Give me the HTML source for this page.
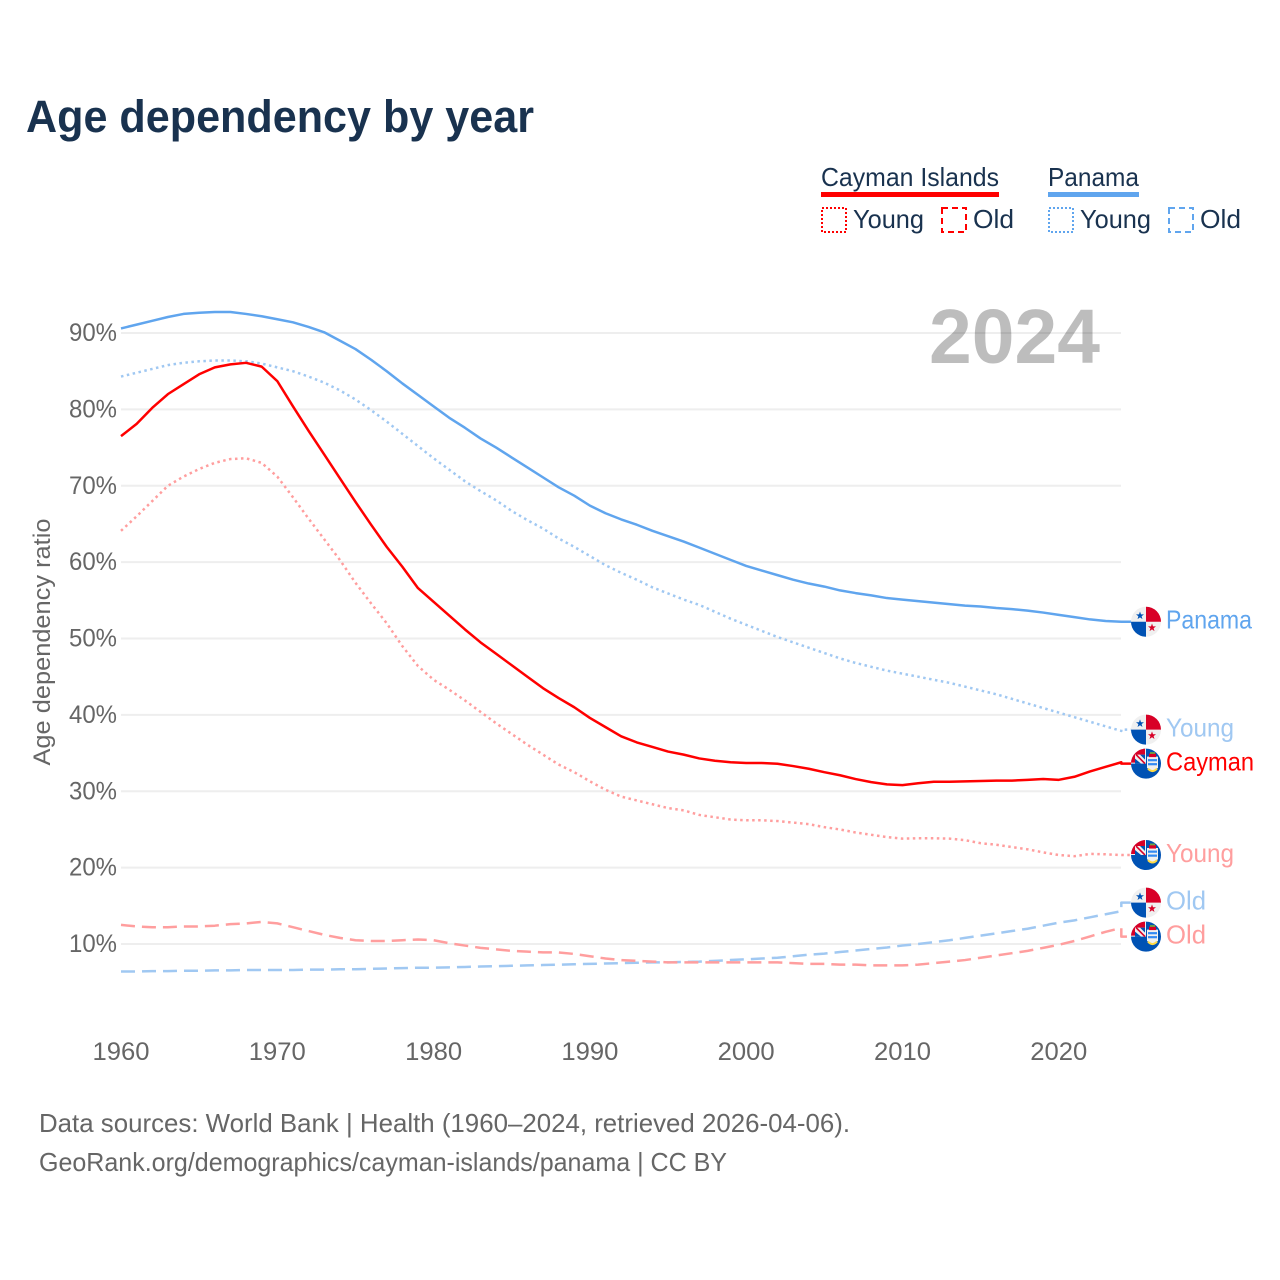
<!DOCTYPE html>
<html lang="en">
<head>
<meta charset="utf-8">
<title>Age dependency by year</title>
<style>
html,body{margin:0;padding:0;background:#fff;}
svg{display:block;}
text{font-family:"Liberation Sans",sans-serif;}
</style>
</head>
<body>
<svg id="chart" width="1280" height="1280" viewBox="0 0 1280 1280" xmlns="http://www.w3.org/2000/svg">
  <rect width="1280" height="1280" fill="#ffffff"/>
  <text x="26" y="132" font-size="45" font-weight="700" fill="#19324f" textLength="508" lengthAdjust="spacingAndGlyphs">Age dependency by year</text>

  <g font-size="26" fill="#19324f">
    <text x="821" y="186" textLength="178" lengthAdjust="spacingAndGlyphs">Cayman Islands</text>
    <rect x="821" y="192" width="178" height="5" fill="#ff0000"/>
    <text x="1048" y="186" textLength="91" lengthAdjust="spacingAndGlyphs">Panama</text>
    <rect x="1048" y="192" width="91" height="5" fill="#60a5ee"/>
    <rect x="822" y="208" width="24" height="24" fill="none" stroke="#ff0000" stroke-width="2" stroke-dasharray="2 2"/>
    <text x="853" y="228" textLength="71" lengthAdjust="spacingAndGlyphs">Young</text>
    <rect x="942" y="208" width="24" height="24" fill="none" stroke="#ff0000" stroke-width="2" stroke-dasharray="6 4"/>
    <text x="973" y="228" textLength="41" lengthAdjust="spacingAndGlyphs">Old</text>
    <rect x="1049" y="208" width="24" height="24" fill="none" stroke="#60a5ee" stroke-width="2" stroke-dasharray="2 2"/>
    <text x="1080" y="228" textLength="71" lengthAdjust="spacingAndGlyphs">Young</text>
    <rect x="1169" y="208" width="24" height="24" fill="none" stroke="#60a5ee" stroke-width="2" stroke-dasharray="6 4"/>
    <text x="1200" y="228" textLength="41" lengthAdjust="spacingAndGlyphs">Old</text>
  </g>

  <g id="grid"></g>
  <g id="y-ticks"></g>
  <g id="x-ticks"></g>
  <text transform="translate(50,642) rotate(-90)" text-anchor="middle" font-size="24" fill="#666666" textLength="247" lengthAdjust="spacingAndGlyphs">Age dependency ratio</text>
  <text x="1100" y="363" text-anchor="end" font-size="77" font-weight="700" fill="#000000" fill-opacity="0.26" textLength="171" lengthAdjust="spacingAndGlyphs">2024</text>

  <g id="series"></g>
  <g id="end-labels"></g>

  <text x="39" y="1132" font-size="26" fill="#666666" textLength="811" lengthAdjust="spacingAndGlyphs">Data sources: World Bank | Health (1960–2024, retrieved 2026-04-06).</text>
  <text x="39" y="1171" font-size="26" fill="#666666" textLength="688" lengthAdjust="spacingAndGlyphs">GeoRank.org/demographics/cayman-islands/panama | CC BY</text>
</svg>

<script>
const startYear = 1960;
const xTickLabels = [1960, 1970, 1980, 1990, 2000, 2010, 2020];
const yTickLabels = [10, 20, 30, 40, 50, 60, 70, 80, 90];

const panamaTotal = [90.6,91.1,91.6,92.1,92.5,92.65,92.75,92.75,92.5,92.2,91.8,91.4,90.8,90.1,89.0,87.9,86.5,85.0,83.4,81.9,80.4,78.9,77.6,76.2,75.0,73.7,72.4,71.1,69.8,68.7,67.4,66.4,65.6,64.9,64.1,63.4,62.7,61.9,61.1,60.3,59.5,58.9,58.3,57.7,57.2,56.8,56.3,55.95,55.65,55.3,55.1,54.9,54.7,54.5,54.3,54.2,54.0,53.85,53.65,53.4,53.1,52.8,52.5,52.3,52.2];
const panamaYoung = [84.3,84.8,85.3,85.8,86.1,86.3,86.4,86.4,86.3,86.0,85.5,85.0,84.3,83.5,82.5,81.3,79.9,78.4,76.8,75.2,73.6,72.1,70.6,69.3,68.1,66.7,65.5,64.4,63.1,62.0,60.8,59.6,58.6,57.7,56.7,55.9,55.1,54.4,53.5,52.6,51.8,51.0,50.2,49.5,48.8,48.1,47.4,46.8,46.3,45.8,45.4,45.0,44.6,44.2,43.7,43.2,42.7,42.1,41.5,40.9,40.3,39.7,39.1,38.5,37.9];
const panamaOld = [6.4,6.4,6.45,6.45,6.5,6.5,6.55,6.55,6.6,6.6,6.6,6.6,6.65,6.65,6.7,6.7,6.75,6.8,6.85,6.9,6.9,6.95,7.0,7.05,7.1,7.15,7.2,7.25,7.3,7.35,7.4,7.45,7.5,7.55,7.6,7.6,7.65,7.7,7.8,7.9,8.0,8.1,8.2,8.4,8.6,8.75,8.95,9.15,9.35,9.55,9.8,10.0,10.25,10.5,10.8,11.1,11.4,11.7,12.0,12.4,12.8,13.1,13.5,13.9,14.3];
const caymanTotal = [76.5,78.1,80.2,82.0,83.3,84.6,85.5,85.9,86.1,85.6,83.7,80.4,77.2,74.1,71.0,67.9,64.9,62.0,59.4,56.6,54.8,53.0,51.2,49.5,48.0,46.5,45.0,43.5,42.2,41.0,39.6,38.4,37.2,36.4,35.8,35.2,34.8,34.3,34.0,33.8,33.7,33.7,33.6,33.3,32.95,32.5,32.1,31.6,31.2,30.9,30.8,31.05,31.25,31.25,31.3,31.35,31.4,31.4,31.5,31.6,31.5,31.9,32.6,33.2,33.8];
const caymanYoung = [64.1,66.0,68.0,70.0,71.2,72.2,73.0,73.5,73.6,73.0,71.2,68.5,65.7,63.0,60.3,57.3,54.6,52.0,49.0,46.4,44.6,43.3,41.9,40.4,38.9,37.5,36.1,34.8,33.5,32.5,31.3,30.2,29.3,28.8,28.3,27.8,27.5,26.9,26.6,26.3,26.2,26.2,26.1,25.9,25.7,25.3,25.0,24.6,24.3,24.0,23.8,23.85,23.85,23.8,23.6,23.2,23.0,22.7,22.4,22.0,21.65,21.5,21.8,21.75,21.65];
const caymanOld = [12.5,12.3,12.2,12.2,12.3,12.3,12.4,12.6,12.7,12.9,12.7,12.2,11.7,11.2,10.8,10.5,10.4,10.4,10.5,10.6,10.5,10.1,9.8,9.5,9.3,9.1,9.0,8.9,8.9,8.7,8.4,8.1,7.9,7.8,7.7,7.6,7.6,7.6,7.6,7.6,7.6,7.6,7.6,7.5,7.4,7.4,7.3,7.3,7.2,7.2,7.2,7.3,7.5,7.7,7.9,8.2,8.5,8.8,9.1,9.5,9.9,10.4,11.0,11.6,12.1];

const NS = 'http://www.w3.org/2000/svg';
function xScale(year) { return 121 + (year - startYear) * 15.63; }
function yScale(v) { return 1020.4 - v * 7.6375; }
function mk(tag, parent) { const n = document.createElementNS(NS, tag); parent.appendChild(n); return n; }

const gridG = document.getElementById('grid');
const yG = document.getElementById('y-ticks');
yTickLabels.forEach(function (t) {
  const line = mk('line', gridG);
  
  
  line.setAttribute('x1', 121);
  line.setAttribute('x2', 1121);
  line.setAttribute('y1', yScale(t));
  line.setAttribute('y2', yScale(t));
  line.setAttribute('stroke', '#eeeeee');
  line.setAttribute('stroke-width', 2);
  const lab = mk('text', yG);
  
  
  lab.setAttribute('x', 117);
  lab.setAttribute('y', yScale(t) + 8);
  lab.setAttribute('text-anchor', 'end');
  lab.setAttribute('font-size', 25);
  lab.setAttribute('fill', '#666666');
  lab.setAttribute('textLength', 48);
  lab.setAttribute('lengthAdjust', 'spacingAndGlyphs');
  lab.textContent = t + '%';
});

const xG = document.getElementById('x-ticks');
xTickLabels.forEach(function (t) {
  const lab = mk('text', xG);
  
  
  lab.setAttribute('x', xScale(t));
  lab.setAttribute('y', 1060);
  lab.setAttribute('text-anchor', 'middle');
  lab.setAttribute('font-size', 25);
  lab.setAttribute('fill', '#666666');
  lab.setAttribute('textLength', 57);
  lab.setAttribute('lengthAdjust', 'spacingAndGlyphs');
  lab.textContent = t;
});

const seriesList = [
  { id: 'panama-old', values: panamaOld, color: '#a0c8f2', dash: '14 7', width: 2.5, label: 'Old', flag: 'panama', textW: 40 },
  { id: 'cayman-old', values: caymanOld, color: '#ff9e9e', dash: '14 7', width: 2.5, label: 'Old', flag: 'cayman', textW: 40 },
  { id: 'panama-young', values: panamaYoung, color: '#a0c8f2', dash: '2.5 3.5', width: 2.5, label: 'Young', flag: 'panama', textW: 68 },
  { id: 'cayman-young', values: caymanYoung, color: '#ff9e9e', dash: '2.5 3.5', width: 2.5, label: 'Young', flag: 'cayman', textW: 68 },
  { id: 'panama-total', values: panamaTotal, color: '#60a5ee', dash: '', width: 2.5, label: 'Panama', flag: 'panama', textW: 86 },
  { id: 'cayman-total', values: caymanTotal, color: '#ff0000', dash: '', width: 2.5, label: 'Cayman', flag: 'cayman', textW: 88 }
];

/* Dodge end labels so that flags never overlap (minimum gap 34px). */
const order = seriesList.map(function (s) {
  return { s: s, y: yScale(s.values[s.values.length - 1]) };
}).sort(function (a, b) { return a.y - b.y; });
for (let it = 0; it < 20; it++) {
  for (let i = 1; i < order.length; i++) {
    const gap = order[i].y - order[i - 1].y;
    if (gap < 34) {
      const d = (34 - gap) / 2;
      order[i - 1].y -= d;
      order[i].y += d;
    }
  }
}
order.forEach(function (o) { o.s.labelY = o.y; });

function flagPanama(g, cy) {
  const cx = 1146, r = 15;
  const base = mk('circle', g);
  base.setAttribute('cx', cx); base.setAttribute('cy', cy); base.setAttribute('r', r); base.setAttribute('fill', '#f0f0f0');
  const red = mk('path', g);
  red.setAttribute('d', 'M' + cx + ' ' + cy + 'V' + (cy - r) + 'A' + r + ' ' + r + ' 0 0 1 ' + (cx + r) + ' ' + cy + 'Z');
  red.setAttribute('fill', '#d80027');
  const blue = mk('path', g);
  blue.setAttribute('d', 'M' + cx + ' ' + cy + 'V' + (cy + r) + 'A' + r + ' ' + r + ' 0 0 1 ' + (cx - r) + ' ' + cy + 'Z');
  blue.setAttribute('fill', '#0052b4');
  [[-6, -6, '#0052b4'], [6, 6, '#d80027']].forEach(function (p) {
    const star = mk('polygon', g);
    const pts = [];
    for (let k = 0; k < 10; k++) {
      const rad = k % 2 ? 1.7 : 4.2;
      const a = -Math.PI / 2 + k * Math.PI / 5;
      pts.push((cx + p[0] + rad * Math.cos(a)).toFixed(2) + ',' + (cy + p[1] + rad * Math.sin(a)).toFixed(2));
    }
    star.setAttribute('points', pts.join(' '));
    star.setAttribute('fill', p[2]);
  });
}

function flagCayman(g, cy) {
  const cx = 1146, r = 15;
  const base = mk('circle', g);
  base.setAttribute('cx', cx); base.setAttribute('cy', cy); base.setAttribute('r', r); base.setAttribute('fill', '#0052b4');
  const union = mk('path', g);
  union.setAttribute('d', 'M' + cx + ' ' + cy + 'V' + (cy - r) + 'A' + r + ' ' + r + ' 0 0 0 ' + (cx - r) + ' ' + cy + 'Z');
  union.setAttribute('fill', '#f0f0f0');
  const redA = mk('path', g);
  redA.setAttribute('d', 'M' + (cx - 1) + ' ' + (cy - 15) + 'A15 15 0 0 0 ' + (cx - 15) + ' ' + (cy - 1) + 'H' + (cx - 11) + 'V' + (cy - 9) + 'H' + (cx - 1) + 'Z');
  redA.setAttribute('fill', '#d80027');
  const blueA = mk('path', g);
  blueA.setAttribute('d', 'M' + (cx - 6) + ' ' + (cy - 9) + 'H' + (cx - 1) + 'V' + (cy - 4) + 'Z');
  blueA.setAttribute('fill', '#0052b4');
  const blueB = mk('path', g);
  blueB.setAttribute('d', 'M' + (cx - 11) + ' ' + (cy - 5) + 'L' + (cx - 5) + ' ' + cy + 'H' + (cx - 11) + 'Z');
  blueB.setAttribute('fill', '#0052b4');
  const redB = mk('line', g);
  redB.setAttribute('x1', cx - 10); redB.setAttribute('y1', cy - 9); redB.setAttribute('x2', cx - 1); redB.setAttribute('y2', cy);
  redB.setAttribute('stroke', '#d80027'); redB.setAttribute('stroke-width', 1.6);
  const shield = mk('path', g);
  shield.setAttribute('d', 'M' + (cx + 1) + ' ' + (cy - 7) + 'H' + (cx + 12) + 'V' + (cy + 4) + 'Q' + (cx + 6.5) + ' ' + (cy + 11) + ' ' + (cx + 1) + ' ' + (cy + 4) + 'Z');
  shield.setAttribute('fill', '#f0f0f0');
  const crest = mk('rect', g);
  crest.setAttribute('x', cx + 3); crest.setAttribute('y', cy - 10); crest.setAttribute('width', 7); crest.setAttribute('height', 3.5);
  crest.setAttribute('fill', '#d80027');
  const crestTop = mk('rect', g);
  crestTop.setAttribute('x', cx + 4); crestTop.setAttribute('y', cy - 11.5); crestTop.setAttribute('width', 5); crestTop.setAttribute('height', 1.8);
  crestTop.setAttribute('fill', '#6da544');
  const wave1 = mk('rect', g);
  wave1.setAttribute('x', cx + 2); wave1.setAttribute('y', cy - 4.5); wave1.setAttribute('width', 9); wave1.setAttribute('height', 2.2);
  wave1.setAttribute('fill', '#338af3');
  const wave2 = mk('rect', g);
  wave2.setAttribute('x', cx + 2); wave2.setAttribute('y', cy - 0.5); wave2.setAttribute('width', 9); wave2.setAttribute('height', 2.2);
  wave2.setAttribute('fill', '#338af3');
  const scroll = mk('path', g);
  scroll.setAttribute('d', 'M' + (cx + 2) + ' ' + (cy + 5) + 'Q' + (cx + 6.5) + ' ' + (cy + 10) + ' ' + (cx + 11) + ' ' + (cy + 5));
  scroll.setAttribute('fill', 'none'); scroll.setAttribute('stroke', '#ffda44'); scroll.setAttribute('stroke-width', 2);
}

const seriesG = document.getElementById('series');
const labelsG = document.getElementById('end-labels');
seriesList.forEach(function (s) {
  const pts = s.values.map(function (v, i) {
    return xScale(startYear + i).toFixed(2) + ' ' + yScale(v).toFixed(2);
  });
  const lastX = xScale(startYear + s.values.length - 1);
  const d = 'M' + pts.join('L') + 'L' + lastX.toFixed(2) + ' ' + s.labelY.toFixed(2) + 'L1133 ' + s.labelY.toFixed(2);
  const path = mk('path', seriesG);
  
  
  path.setAttribute('d', d);
  path.setAttribute('fill', 'none');
  path.setAttribute('stroke', s.color);
  path.setAttribute('stroke-width', s.width);
  path.setAttribute('stroke-linejoin', 'round');
  if (s.dash) path.setAttribute('stroke-dasharray', s.dash);

  const flag = mk('g', labelsG);
  
  
  if (s.flag === 'panama') flagPanama(flag, s.labelY); else flagCayman(flag, s.labelY);

  const lab = mk('text', labelsG);
  
  
  lab.setAttribute('x', 1166);
  lab.setAttribute('y', s.labelY + 7);
  lab.setAttribute('font-size', 26);
  lab.setAttribute('fill', s.color);
  lab.setAttribute('textLength', s.textW);
  lab.setAttribute('lengthAdjust', 'spacingAndGlyphs');
  lab.textContent = s.label;
});
</script>
</body>
</html>
